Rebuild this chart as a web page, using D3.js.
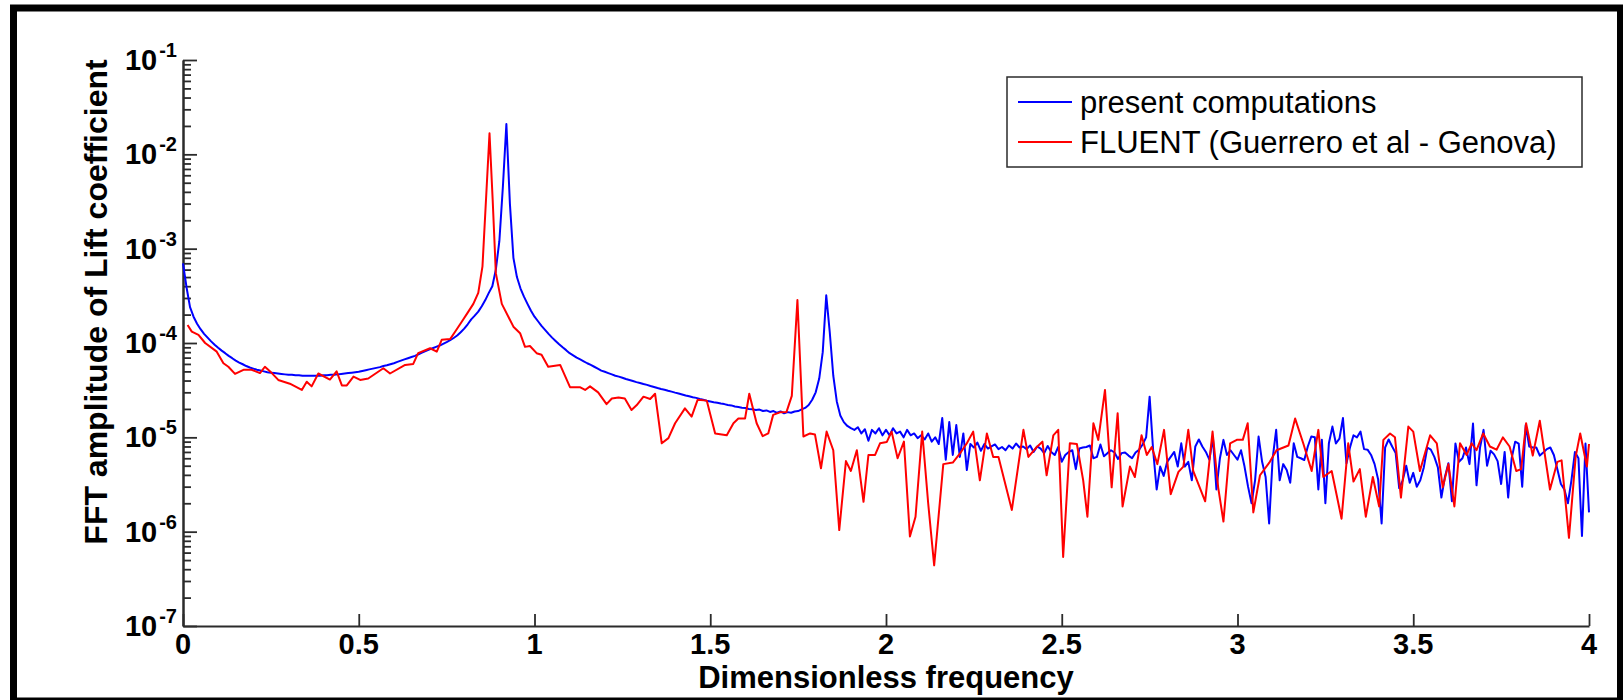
<!DOCTYPE html>
<html>
<head>
<meta charset="utf-8">
<script src="https://cdn.jsdelivr.net/npm/d3@7/dist/d3.min.js"></script>
<style>
  html, body { margin: 0; padding: 0; background: #fff; }
  svg { display: block; }
  text { font-family: "Liberation Sans", Arial, sans-serif; }
</style>
</head>
<body>
<svg id="chart" width="1623" height="700"></svg>
<script>
// FFT amplitude of the lift coefficient, present computations (uniform bins)
const presentFreqStep = 0.01;
const presentAmp = [
  7.0e-4, 3.9e-4, 2.4e-4, 1.9e-4, 1.6e-4, 1.4e-4, 1.25e-4, 1.14e-4, 1.04e-4, 9.6e-5,
  8.9e-5, 8.3e-5, 7.8e-5, 7.3e-5, 6.9e-5, 6.5e-5, 6.2e-5, 5.95e-5, 5.7e-5, 5.5e-5,
  5.35e-5, 5.2e-5, 5.1e-5, 5.0e-5, 4.9e-5, 4.85e-5, 4.8e-5, 4.75e-5, 4.7e-5, 4.65e-5,
  4.6e-5, 4.6e-5, 4.55e-5, 4.55e-5, 4.5e-5, 4.5e-5, 4.5e-5, 4.5e-5, 4.5e-5, 4.5e-5,
  4.55e-5, 4.55e-5, 4.6e-5, 4.6e-5, 4.65e-5, 4.7e-5, 4.75e-5, 4.8e-5, 4.85e-5, 4.9e-5,
  4.95e-5, 5.05e-5, 5.15e-5, 5.25e-5, 5.35e-5, 5.45e-5, 5.55e-5, 5.7e-5, 5.8e-5, 5.95e-5,
  6.1e-5, 6.3e-5, 6.5e-5, 6.7e-5, 6.9e-5, 7.1e-5, 7.3e-5, 7.6e-5, 7.9e-5, 8.2e-5,
  8.5e-5, 8.8e-5, 9.1e-5, 9.4e-5, 9.8e-5, 1.02e-4, 1.07e-4, 1.13e-4, 1.2e-4, 1.3e-4,
  1.42e-4, 1.58e-4, 1.78e-4, 1.95e-4, 2.15e-4, 2.45e-4, 2.85e-4, 3.4e-4, 4.0e-4, 6.0e-4,
  1.2e-3, 4.5e-3, 2.1e-2, 3.0e-3, 8.0e-4, 5.0e-4, 3.8e-4, 3.1e-4, 2.6e-4, 2.2e-4,
  1.9e-4, 1.7e-4, 1.52e-4, 1.38e-4, 1.25e-4, 1.14e-4, 1.05e-4, 9.7e-5, 9.0e-5, 8.4e-5,
  7.8e-5, 7.4e-5, 7.0e-5, 6.7e-5, 6.4e-5, 6.1e-5, 5.85e-5, 5.6e-5, 5.35e-5, 5.1e-5,
  4.95e-5, 4.8e-5, 4.65e-5, 4.5e-5, 4.4e-5, 4.28e-5, 4.15e-5, 4.05e-5, 3.95e-5, 3.85e-5,
  3.77e-5, 3.68e-5, 3.6e-5, 3.5e-5, 3.42e-5, 3.33e-5, 3.25e-5, 3.2e-5, 3.12e-5, 3.05e-5,
  2.98e-5, 2.92e-5, 2.85e-5, 2.78e-5, 2.72e-5, 2.66e-5, 2.62e-5, 2.55e-5, 2.5e-5, 2.44e-5,
  2.4e-5, 2.36e-5, 2.33e-5, 2.28e-5, 2.25e-5, 2.2e-5, 2.18e-5, 2.12e-5, 2.1e-5, 2.06e-5,
  2.05e-5, 2.0e-5, 1.98e-5, 1.95e-5, 1.97e-5, 1.9e-5, 1.93e-5, 1.86e-5, 1.9e-5, 1.82e-5,
  1.88e-5, 1.8e-5, 1.85e-5, 1.82e-5, 1.88e-5, 1.9e-5, 1.98e-5, 2.05e-5, 2.2e-5, 2.5e-5,
  3.0e-5, 4.2e-5, 8.0e-5, 3.2e-4, 1.3e-4, 4.5e-5, 2.4e-5, 1.7e-5, 1.45e-5, 1.32e-5,
  1.25e-5, 1.2e-5, 1.28e-5, 1.1e-5, 1.22e-5, 9.2e-6, 1.2e-5, 1.1e-5, 1.25e-5, 1.05e-5,
  1.2e-5, 1.05e-5, 1.25e-5, 1.1e-5, 1.15e-5, 1.0e-5, 1.2e-5, 1.05e-5, 1.1e-5, 9.8e-6,
  1.05e-5, 9.5e-6, 1.1e-5, 9.0e-6, 1.0e-5, 8.5e-6, 1.6e-5, 5.8e-6, 1.45e-5, 6.5e-6,
  1.35e-5, 6.2e-6, 1.1e-5, 4.5e-6, 8.5e-6, 7.8e-6, 8.8e-6, 7.2e-6, 8.5e-6, 7.6e-6,
  8.0e-6, 8.4e-6, 7.5e-6, 7.9e-6, 7.3e-6, 8.2e-6, 7.6e-6, 8.6e-6, 7.8e-6, 8.0e-6,
  7.5e-6, 8.2e-6, 7.0e-6, 8.0e-6, 7.6e-6, 6.8e-6, 8.1e-6, 7.0e-6, 6.5e-6, 7.9e-6,
  5.5e-6, 6.5e-6, 7.0e-6, 7.3e-6, 4.6e-6, 7.6e-6, 7.8e-6, 7.9e-6, 8.2e-6, 6.0e-6,
  6.2e-6, 8.4e-6, 6.3e-6, 6.8e-6, 7.3e-6, 6.9e-6, 5.9e-6, 6.8e-6, 6.9e-6, 6.4e-6,
  6.0e-6, 6.9e-6, 7.4e-6, 8.4e-6, 1.0e-5, 2.7e-5, 7.3e-6, 2.8e-6, 4.9e-6, 3.9e-6,
  5.5e-6, 6.2e-6, 7.0e-6, 4.9e-6, 8.65e-6, 4.9e-6, 5.5e-6, 3.5e-6, 8.0e-6, 9.5e-6,
  8.0e-6, 7.0e-6, 5.8e-6, 1.0e-5, 2.8e-6, 6.0e-6, 9.4e-6, 6.5e-6, 7.3e-6, 6.5e-6,
  5.8e-6, 7.3e-6, 4.9e-6, 3.0e-6, 2.0e-6, 3.5e-6, 1.02e-5, 5.5e-6, 3.8e-6, 1.22e-6,
  6.0e-6, 1.2e-5, 3.5e-6, 5.2e-6, 4.5e-6, 3.3e-6, 8.65e-6, 6.2e-6, 6.0e-6, 5.75e-6,
  8.0e-6, 1.02e-5, 1.0e-5, 2.8e-6, 9.4e-6, 2.0e-6, 8.65e-6, 1.3e-5, 8.6e-6, 9.7e-6,
  1.6e-5, 5.3e-6, 7.8e-6, 1.05e-5, 1.0e-5, 1.15e-5, 7.5e-6, 7.4e-6, 6.5e-6, 5.2e-6,
  3.6e-6, 1.22e-6, 7.8e-6, 9.5e-6, 8.0e-6, 6.8e-6, 2.9e-6, 3.5e-6, 5.0e-6, 3.3e-6,
  4.2e-6, 3.0e-6, 3.5e-6, 4.8e-6, 7.8e-6, 7.4e-6, 6.2e-6, 4.8e-6, 2.3e-6, 3.8e-6,
  5.3e-6, 2.1e-6, 8.6e-6, 5.5e-6, 6.0e-6, 7.8e-6, 5.2e-6, 1.4e-5, 3.1e-6, 7.8e-6,
  1.2e-5, 5.0e-6, 7.2e-6, 6.6e-6, 5.6e-6, 3.2e-6, 7.0e-6, 2.3e-6, 6.0e-6, 9.0e-6,
  8.6e-6, 3.0e-6, 1.35e-5, 8.0e-6, 7.8e-6, 7.8e-6, 6.4e-6, 6.9e-6, 7.5e-6, 7.8e-6,
  6.5e-6, 4.6e-6, 3.2e-6, 2.8e-6, 2.0e-6, 3.5e-6, 7.0e-6, 6.0e-6, 9.0e-7, 8.6e-6,
  1.6e-6
];

// FFT amplitude of the lift coefficient, FLUENT reference: [frequency, amplitude]
const fluentSpectrum = [
  [0.013, 1.55e-4], [0.025, 1.32e-4], [0.044, 1.22e-4], [0.063, 1.0e-4], [0.096, 8.1e-5],
  [0.115, 6.1e-5], [0.129, 5.6e-5], [0.148, 4.7e-5], [0.172, 5.2e-5], [0.195, 5.2e-5],
  [0.219, 4.8e-5], [0.233, 5.6e-5], [0.248, 5.0e-5], [0.271, 4.06e-5], [0.304, 3.7e-5],
  [0.338, 3.18e-5], [0.352, 3.89e-5], [0.366, 3.47e-5], [0.385, 4.75e-5], [0.418, 4.1e-5],
  [0.437, 5.0e-5], [0.452, 3.55e-5], [0.466, 3.55e-5], [0.485, 4.4e-5], [0.504, 4.06e-5],
  [0.527, 4.2e-5], [0.570, 5.4e-5], [0.589, 4.75e-5], [0.632, 5.85e-5], [0.655, 6.0e-5],
  [0.669, 7.8e-5], [0.703, 8.8e-5], [0.722, 8.1e-5], [0.736, 1.08e-4], [0.760, 1.1e-4],
  [0.776, 1.35e-4], [0.793, 1.68e-4], [0.810, 2.1e-4], [0.826, 2.6e-4], [0.840, 3.4e-4],
  [0.852, 6.5e-4], [0.862, 3.3e-3], [0.872, 1.67e-2], [0.881, 3.3e-3], [0.890, 5.5e-4],
  [0.907, 2.6e-4], [0.940, 1.49e-4], [0.959, 1.27e-4], [0.973, 9.1e-5], [0.987, 9.3e-5],
  [1.006, 7.8e-5], [1.020, 7.5e-5], [1.039, 5.6e-5], [1.073, 5.85e-5], [1.101, 3.4e-5],
  [1.129, 3.4e-5], [1.144, 3.18e-5], [1.158, 3.47e-5], [1.181, 3.0e-5], [1.205, 2.25e-5],
  [1.220, 2.58e-5], [1.239, 2.65e-5], [1.257, 2.58e-5], [1.276, 1.95e-5], [1.291, 2.2e-5],
  [1.310, 2.7e-5], [1.329, 2.55e-5], [1.343, 2.9e-5], [1.362, 8.65e-6], [1.381, 9.8e-6],
  [1.400, 1.41e-5], [1.428, 2.03e-5], [1.447, 1.66e-5], [1.464, 2.5e-5], [1.490, 2.45e-5],
  [1.514, 1.1e-5], [1.547, 1.05e-5], [1.566, 1.41e-5], [1.580, 1.58e-5], [1.599, 1.58e-5],
  [1.611, 2.9e-5], [1.632, 1.41e-5], [1.649, 1.03e-5], [1.665, 1.1e-5], [1.679, 1.73e-5],
  [1.698, 1.84e-5], [1.717, 1.86e-5], [1.732, 2.75e-5], [1.748, 2.86e-4], [1.765, 1.02e-5],
  [1.784, 1.1e-5], [1.798, 1.07e-5], [1.815, 4.7e-6], [1.831, 1.15e-5], [1.850, 7.3e-6],
  [1.867, 1.04e-6], [1.886, 5.6e-6], [1.900, 4.4e-6], [1.917, 7.3e-6], [1.936, 2.07e-6],
  [1.950, 6.5e-6], [1.969, 6.5e-6], [1.983, 8.65e-6], [2.002, 8.9e-6], [2.016, 1.15e-5],
  [2.033, 6.0e-6], [2.051, 9.0e-6], [2.068, 8.9e-7], [2.084, 1.44e-6], [2.103, 1.15e-5],
  [2.120, 2.0e-6], [2.137, 4.4e-7], [2.163, 5.2e-6], [2.190, 5.4e-6], [2.210, 6.7e-6],
  [2.230, 8.65e-6], [2.248, 1.15e-5], [2.267, 3.5e-6], [2.287, 1.1e-5], [2.305, 6.2e-6],
  [2.320, 6.2e-6], [2.358, 1.7e-6], [2.391, 1.2e-5], [2.405, 6.2e-6], [2.429, 7.9e-6],
  [2.445, 9.0e-6], [2.457, 3.96e-6], [2.476, 1.05e-5], [2.490, 1.2e-5], [2.504, 5.4e-7],
  [2.523, 8.65e-6], [2.543, 8.5e-6], [2.561, 3.5e-6], [2.573, 1.44e-6], [2.590, 1.41e-5],
  [2.604, 9.4e-6], [2.623, 3.18e-5], [2.642, 2.95e-6], [2.659, 1.8e-5], [2.673, 1.85e-6],
  [2.694, 4.9e-6], [2.708, 3.8e-6], [2.727, 1.05e-5], [2.742, 6.5e-6], [2.756, 7.9e-6],
  [2.772, 5.2e-6], [2.791, 1.2e-5], [2.810, 2.5e-6], [2.832, 4.3e-6], [2.846, 4.9e-6],
  [2.860, 1.2e-5], [2.874, 4.4e-6], [2.908, 2.1e-6], [2.929, 1.15e-5], [2.945, 2.95e-6],
  [2.960, 1.28e-6], [2.979, 8.65e-6], [2.998, 9.4e-6], [3.015, 9.4e-6], [3.029, 1.41e-5],
  [3.045, 1.6e-6], [3.064, 3.96e-6], [3.092, 5.5e-6], [3.111, 7.3e-6], [3.145, 8.2e-6],
  [3.164, 1.58e-5], [3.187, 8.65e-6], [3.211, 4.4e-6], [3.230, 1.2e-5], [3.244, 3.8e-6],
  [3.268, 4.4e-6], [3.296, 1.37e-6], [3.315, 8.65e-6], [3.330, 3.4e-6], [3.348, 4.6e-6],
  [3.365, 1.44e-6], [3.385, 3.8e-6], [3.403, 1.85e-6], [3.415, 9.4e-6], [3.434, 1.1e-5],
  [3.448, 1.0e-5], [3.465, 2.3e-6], [3.486, 1.3e-5], [3.500, 1.15e-5], [3.519, 4.4e-6],
  [3.548, 1.05e-5], [3.567, 8.65e-6], [3.584, 2.95e-6], [3.600, 5.2e-6], [3.617, 1.85e-6],
  [3.633, 8.65e-6], [3.652, 6.5e-6], [3.666, 8.65e-6], [3.680, 7.3e-6], [3.699, 1.1e-5],
  [3.718, 8.0e-6], [3.737, 7.4e-6], [3.755, 1.0e-5], [3.774, 8.0e-6], [3.793, 4.4e-6],
  [3.807, 4.6e-6], [3.821, 1.41e-5], [3.840, 6.4e-6], [3.860, 1.5e-5], [3.889, 2.8e-6],
  [3.910, 5.5e-6], [3.922, 5.7e-6], [3.943, 8.6e-7], [3.962, 6.2e-6], [3.975, 1.1e-5],
  [3.994, 4.9e-6], [4.000, 8.5e-6]
];

const seriesNames = ["present computations", "FLUENT (Guerrero et al - Genova)"];
const seriesColors = ["#0000ff", "#ff0000"];

const xTickValues = [0, 0.5, 1, 1.5, 2, 2.5, 3, 3.5, 4];
const xTickLabels = ["0", "0.5", "1", "1.5", "2", "2.5", "3", "3.5", "4"];
const yDecadeExponents = [-7, -6, -5, -4, -3, -2, -1];

const xTitle = "Dimensionless frequency";
const yTitle = "FFT amplitude of Lift coefficient";

// ---- layout ----
const plot = { left: 183, right: 1589, top: 60, bottom: 626 };
const axisColor = "#2b2b2b";

const svg = d3.select("#chart");

// outer frame
svg.append("rect")
  .attr("x", 13.5).attr("y", 8)
  .attr("width", 1607).attr("height", 693)
  .attr("fill", "none").attr("stroke", "#000").attr("stroke-width", 7);

const x = d3.scaleLinear().domain([0, 4]).range([plot.left, plot.right]);
const y = d3.scaleLog().domain([1e-7, 1e-1]).range([plot.bottom, plot.top]);

// y axis: major decade ticks and minor ticks, drawn inward
const majorVals = yDecadeExponents.map(e => Math.pow(10, e));
const minorVals = [];
yDecadeExponents.slice(0, -1).forEach(e => {
  for (let m = 2; m <= 9; m++) minorVals.push(m * Math.pow(10, e));
});

const yAxisMinor = svg.append("g")
  .attr("transform", `translate(${plot.left},0)`)
  .call(d3.axisLeft(y).tickValues(minorVals).tickSize(-8).tickSizeOuter(0).tickFormat(""));
const yAxisMajor = svg.append("g")
  .attr("transform", `translate(${plot.left},0)`)
  .call(d3.axisLeft(y).tickValues(majorVals).tickSize(-14).tickSizeOuter(0).tickFormat(""));

const xAxis = svg.append("g")
  .attr("transform", `translate(0,${plot.bottom})`)
  .call(d3.axisBottom(x).tickValues(xTickValues).tickSize(-12).tickSizeOuter(0).tickFormat(""));

[yAxisMinor, yAxisMajor, xAxis].forEach(g => {
  g.selectAll("path.domain").attr("stroke", axisColor).attr("stroke-width", 2);
  g.selectAll(".tick line").attr("stroke", axisColor).attr("stroke-width", 1.8);
});

// y tick labels as 10 with a superscript exponent
const yLabels = svg.append("g");
yDecadeExponents.forEach(e => {
  const t = yLabels.append("text")
    .attr("x", 177)
    .attr("y", y(Math.pow(10, e)) + 10)
    .attr("text-anchor", "end")
    .attr("font-weight", "bold")
    .attr("font-size", 29)
    .attr("fill", "#000");
  t.append("tspan").text("10");
  t.append("tspan").attr("dx", 2).attr("dy", -13).attr("font-size", 20).text(String(e));
});

// x tick labels
svg.append("g").selectAll("text")
  .data(xTickValues)
  .join("text")
  .attr("x", d => x(d))
  .attr("y", 654)
  .attr("text-anchor", "middle")
  .attr("font-weight", "bold")
  .attr("font-size", 29)
  .attr("fill", "#000")
  .text((d, i) => xTickLabels[i]);

// axis titles
svg.append("text")
  .attr("x", (plot.left + plot.right) / 2)
  .attr("y", 688)
  .attr("text-anchor", "middle")
  .attr("font-weight", "bold")
  .attr("font-size", 31)
  .attr("fill", "#000")
  .text(xTitle);

svg.append("text")
  .attr("transform", "translate(107,302) rotate(-90)")
  .attr("text-anchor", "middle")
  .attr("font-weight", "bold")
  .attr("font-size", 32)
  .attr("fill", "#000")
  .text(yTitle);

// spectra
const presentPoints = presentAmp.map((a, i) => [i * presentFreqStep, a]);
const line = d3.line().x(d => x(d[0])).y(d => y(d[1]));

svg.append("path")
  .datum(presentPoints)
  .attr("d", line)
  .attr("fill", "none")
  .attr("stroke", seriesColors[0])
  .attr("stroke-width", 2)
  .attr("stroke-linejoin", "round");

svg.append("path")
  .datum(fluentSpectrum)
  .attr("d", line)
  .attr("fill", "none")
  .attr("stroke", seriesColors[1])
  .attr("stroke-width", 2)
  .attr("stroke-linejoin", "round");

// legend
const legend = svg.append("g");
legend.append("rect")
  .attr("x", 1007).attr("y", 77)
  .attr("width", 575).attr("height", 90)
  .attr("fill", "#fff").attr("stroke", axisColor).attr("stroke-width", 1.5);

seriesNames.forEach((name, i) => {
  const cy = 102 + i * 40;
  legend.append("line")
    .attr("x1", 1018).attr("x2", 1072)
    .attr("y1", cy).attr("y2", cy)
    .attr("stroke", seriesColors[i]).attr("stroke-width", 2);
  legend.append("text")
    .attr("x", 1080).attr("y", cy + 11)
    .attr("font-size", 31)
    .attr("fill", "#000")
    .text(name);
});
</script>
</body>
</html>
